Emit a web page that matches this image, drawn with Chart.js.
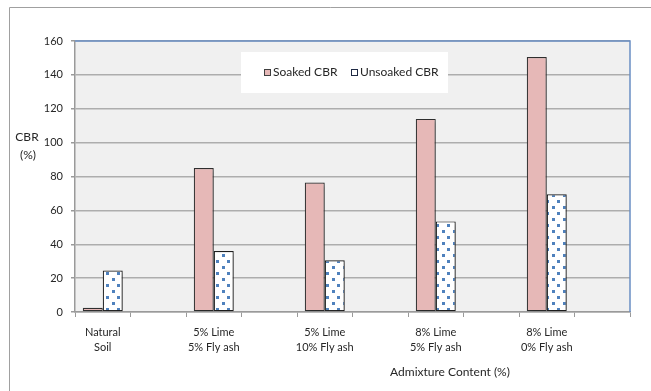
<!DOCTYPE html>
<html>
<head>
<meta charset="utf-8">
<script src="https://cdn.jsdelivr.net/npm/chart.js@4/dist/chart.umd.min.js"></script>
<style>
  html, body { margin: 0; padding: 0; background: #ffffff; }
  #wrap { width: 651px; height: 391px; position: relative; }
</style>
</head>
<body>
<div id="wrap"><canvas id="cbr" width="651" height="391"></canvas></div>
<script>
// Mix designs tested (each followed by an empty spacer slot on the axis)
const mixLabels = [
  ['Natural', 'Soil'],
  ['5% Lime', '5% Fly ash'],
  ['5% Lime', '10% Fly ash'],
  ['8% Lime', '5% Fly ash'],
  ['8% Lime', '0% Fly ash']
];
// CBR values (%)
const soakedCBR   = [2.5, 85, 76.5, 114, 150.5];
const unsoakedCBR = [24.5, 36, 30.5, 53.5, 69.5];
// Value axis ticks
const yTicks = { min: 0, max: 160, step: 20 };

const seriesNames = ['Soaked CBR', 'Unsoaked CBR'];
const axisTitleX = 'Admixture Content (%)';
const axisTitleY = ['CBR', '(%)'];

// interleave an empty slot after each mix
const withSpacers = (arr, blank) => arr.flatMap(v => [v, blank]);
const labels = withSpacers(mixLabels, '');
const soakedData = withSpacers(soakedCBR, null);
const unsoakedData = withSpacers(unsoakedCBR, null);

const FONT = 'Lato, "Open Sans", "Liberation Sans", sans-serif';
const TEXT = '#262626';

// dotted fill for the unsoaked series
function dotPattern() {
  const c = document.createElement('canvas');
  c.width = 11; c.height = 12;
  const g = c.getContext('2d');
  g.fillStyle = '#ffffff';
  g.fillRect(0, 0, 11, 12);
  g.fillStyle = '#4f81bd';
  g.fillRect(2, 2, 3, 3);
  g.fillRect(7, 8, 3, 3);
  return g.createPattern(c, 'repeat');
}

const framePlugin = {
  id: 'frame',
  beforeDraw(chart) {
    const { ctx, chartArea: a, width, height } = chart;
    ctx.save();
    ctx.fillStyle = '#ffffff';
    ctx.fillRect(0, 0, width, height);
    // outer frame
    ctx.strokeStyle = '#a0a0a0';
    ctx.lineWidth = 1;
    ctx.beginPath();
    ctx.moveTo(9.5, height);
    ctx.lineTo(9.5, 7.5);
    ctx.lineTo(width, 7.5);
    ctx.stroke();
    // plot background
    ctx.fillStyle = '#f0f0f0';
    ctx.fillRect(a.left, a.top, a.right - a.left, a.bottom - a.top);
    ctx.restore();
  },
  beforeDatasetsDraw(chart) {
    const ctx = chart.ctx;
    ctx.save();
    ctx.shadowColor = 'rgba(0,0,0,0.22)';
    ctx.shadowBlur = 4;
    ctx.shadowOffsetX = 3;
    ctx.shadowOffsetY = 2;
  },
  afterDatasetsDraw(chart) {
    chart.ctx.restore();
  },
  afterDraw(chart) {
    const { ctx, chartArea: a } = chart;
    ctx.save();
    // plot border on top and right
    ctx.strokeStyle = '#6a8ec4';
    ctx.lineWidth = 1.5;
    ctx.beginPath();
    ctx.moveTo(a.left, a.top);
    ctx.lineTo(a.right, a.top);
    ctx.lineTo(a.right, a.bottom);
    ctx.stroke();

    // legend box inside the plot
    const lx = a.left + 166, ly = a.top + 11, lw = 207, lh = 41;
    ctx.fillStyle = '#ffffff';
    ctx.fillRect(lx, ly, lw, lh);
    ctx.font = '12px ' + FONT;
    ctx.textBaseline = 'middle';
    ctx.textAlign = 'left';
    const cy = ly + lh / 2;
    const itemX = [lx + 23, lx + 110];
    chart.data.datasets.forEach((ds, i) => {
      const x = itemX[i];
      ctx.fillStyle = i === 0 ? ds.backgroundColor : '#ffffff';
      ctx.fillRect(x, cy - 3.5, 7, 7);
      ctx.strokeStyle = i === 0 ? '#404040' : '#1f2a44';
      ctx.lineWidth = 1;
      ctx.strokeRect(x + 0.5, cy - 3, 6, 6);
      ctx.fillStyle = TEXT;
      ctx.fillText(ds.label, x + 9, cy);
    });

    // axis titles
    ctx.font = '12px ' + FONT;
    ctx.textAlign = 'center';
    ctx.fillText(axisTitleX, a.left + 375, a.bottom + 60);
    ctx.fillText(axisTitleY[0], 27, 137);
    ctx.fillText(axisTitleY[1], 28, 155);
    ctx.restore();
  }
};

new Chart(document.getElementById('cbr'), {
  type: 'bar',
  data: {
    labels,
    datasets: [
      {
        label: seriesNames[0],
        data: soakedData,
        backgroundColor: '#e6b8b7',
        borderColor: '#303030',
        borderWidth: 1.2,
        borderSkipped: false
      },
      {
        label: seriesNames[1],
        data: unsoakedData,
        backgroundColor: dotPattern(),
        borderColor: '#202020',
        borderWidth: 1.2,
        borderSkipped: false
      }
    ]
  },
  options: {
    responsive: false,
    animation: false,
    devicePixelRatio: 1,
    layout: { padding: { top: 41, right: 21, left: 0, bottom: 0 } },
    datasets: { bar: { categoryPercentage: 0.72, barPercentage: 1 } },
    plugins: {
      legend: { display: false },
      tooltip: { enabled: false }
    },
    scales: {
      x: {
        afterFit(scale) { scale.height = 79; },
        grid: {
          offset: true,
          drawOnChartArea: false,
          drawTicks: true,
          tickLength: 5,
          color: '#9a9a9a'
        },
        border: { color: '#9a9a9a', width: 1.5 },
        ticks: {
          autoSkip: false,
          maxRotation: 0,
          minRotation: 0,
          padding: 8,
          color: TEXT,
          font: { family: FONT, size: 11, lineHeight: 1.36 }
        }
      },
      y: {
        min: yTicks.min,
        max: yTicks.max,
        afterFit(scale) { scale.width = 75; },
        grid: {
          color: '#adadad',
          lineWidth: 1.5,
          tickLength: 4,
          tickColor: '#9a9a9a'
        },
        border: { color: '#9a9a9a', width: 1.5 },
        ticks: {
          stepSize: yTicks.step,
          padding: 8,
          color: TEXT,
          font: { family: FONT, size: 11 }
        }
      }
    }
  },
  plugins: [framePlugin]
});
</script>
</body>
</html>
